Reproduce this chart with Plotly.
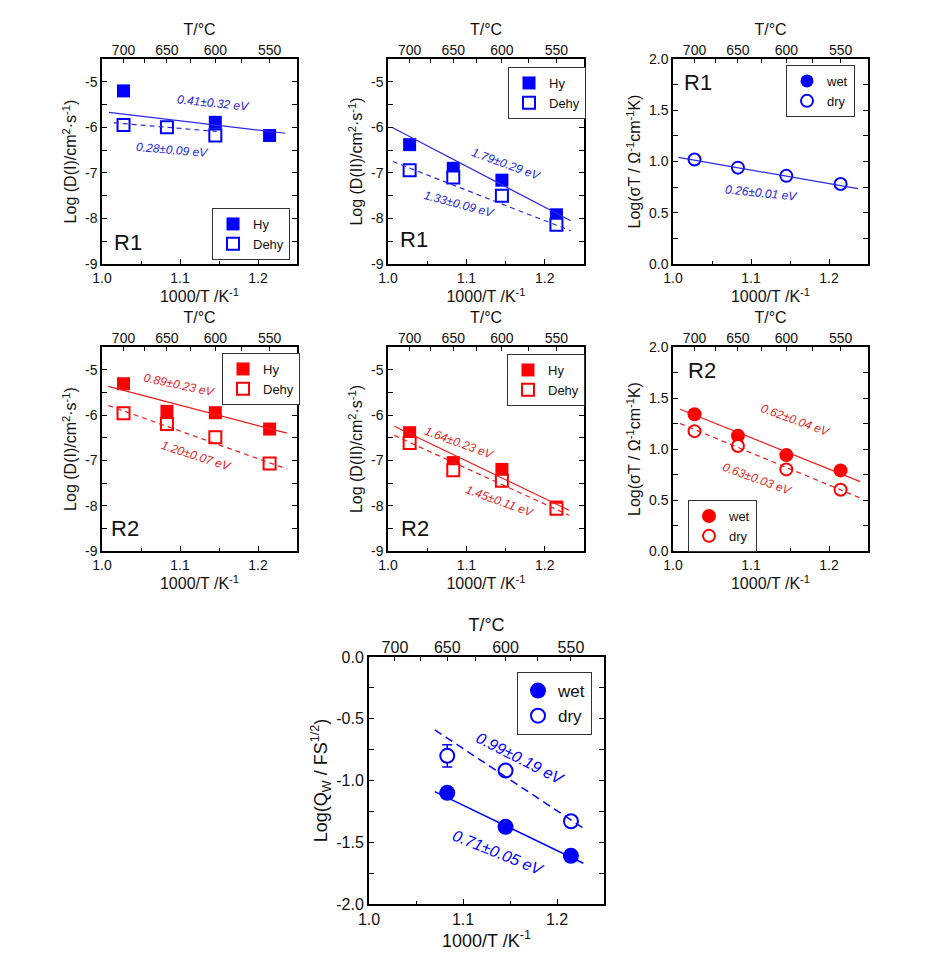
import plotly.graph_objects as go

W, H = 943, 968
OFF = 8  # page body margin of the browser
FONT = "Arial, 'Liberation Sans', sans-serif"
BLUE = "#0000ff"
BLUE_LINE = "#2a2ae6"
BLUE_TEXT = "#2323d8"
RED = "#ff0000"
RED_LINE = "#f01818"
RED_TEXT = "#e01c1c"

# ---------------- data ----------------
TEMPS_TOP = [700, 675, 650, 625, 600, 575, 550]
TEMP_LABELS = ["700", "", "650", "", "600", "", "550"]
X_TICKS = [1.0, 1.1, 1.2]
X_TICK_TEXT = ["1.0", "1.1", "1.2"]
X_MINOR = [1.05, 1.15]

D_TICKS = [-9, -8, -7, -6, -5]
D_TICK_TEXT = ["-9", "-8", "-7", "-6", "-5"]
D_MINOR = [-8.5, -7.5, -6.5, -5.5, -4.5]
S_TICKS = [0.0, 0.5, 1.0, 1.5, 2.0]
S_TICK_TEXT = ["0.0", "0.5", "1.0", "1.5", "2.0"]
S_MINOR = [0.25, 0.75, 1.25, 1.75]
Q_TICKS = [-2.0, -1.5, -1.0, -0.5, 0.0]
Q_TICK_TEXT = ["-2.0", "-1.5", "-1.0", "-0.5", "0.0"]
Q_MINOR = [-1.75, -1.25, -0.75, -0.25]

# Panel 1: R1, D(I)
p1_hy_T = [700, 600, 550]
p1_hy = [-5.20, -5.89, -6.18]
p1_dehy_T = [700, 650, 600]
p1_dehy = [-5.95, -6.00, -6.18]
p1_fit_hy_x = [1.009, 1.235]
p1_fit_hy = [-5.67, -6.13]
p1_fit_dehy_x = [1.015, 1.147]
p1_fit_dehy = [-5.90, -6.09]

# Panel 2: R1, D(II)
p2_T = [700, 650, 600, 550]
p2_hy = [-6.38, -6.90, -7.16, -7.92]
p2_dehy = [-6.94, -7.10, -7.50, -8.14]
p2_fit_x = [1.006, 1.233]
p2_fit_hy = [-6.01, -8.05]
p2_fit_dehy = [-6.75, -8.27]

# Panel 3: R1, sigma T
p3_T = [700, 650, 600, 550]
p3_dry = [1.02, 0.94, 0.86, 0.78]
p3_fit_x = [1.007, 1.237]
p3_fit_dry = [1.04, 0.735]

# Panel 4: R2, D(I)
p4_T = [700, 650, 600, 550]
p4_hy = [-5.31, -5.92, -5.95, -6.31]
p4_dehy = [-5.96, -6.20, -6.49, -7.07]
p4_fit_x = [1.008, 1.237]
p4_fit_hy = [-5.37, -6.40]
p4_fit_dehy = [-5.79, -7.19]

# Panel 5: R2, D(II)
p5_T = [700, 650, 600, 550]
p5_hy = [-6.39, -7.05, -7.20, -8.03]
p5_dehy = [-6.62, -7.22, -7.45, -8.07]
p5_fit_x = [1.008, 1.231]
p5_fit_hy = [-6.25, -8.10]
p5_fit_dehy = [-6.45, -8.21]

# Panel 6: R2, sigma T
p6_T = [700, 650, 600, 550]
p6_wet = [1.34, 1.13, 0.94, 0.79]
p6_dry = [1.175, 1.03, 0.80, 0.60]
p6_fit_x = [1.009, 1.24]
p6_fit_wet = [1.39, 0.68]
p6_fit_dry = [1.25, 0.52]

# Panel 7: Q_W
p7_T = [650, 600, 550]
p7_wet = [-1.10, -1.375, -1.61]
p7_dry = [-0.80, -0.92, -1.33]
p7_dry_err = [0.09, 0.0, 0.0]
p7_fit_x = [1.070, 1.228]
p7_fit_wet = [-1.09, -1.67]
p7_fit_dry = [-0.59, -1.386]


def inv(temps):
    return [1000.0 / (t + 273.15) for t in temps]


def sfx(i):
    return "" if i == 1 else str(i)


def px_x(px):
    return (px - OFF) / W


def px_y(py):
    return 1 - (py - OFF) / H


fig = go.Figure()

# panel boxes in pixels: (x0, x1), (y0, y1) from top
cols = [(102, 297), (388, 584), (673, 868)]
rows = [(59, 264), (347, 551)]
boxes = [
    (cols[0], rows[0]), (cols[1], rows[0]), (cols[2], rows[0]),
    (cols[0], rows[1]), (cols[1], rows[1]), (cols[2], rows[1]),
    ((369, 604), (657, 904)),
]


def setup_axes(i, yrange, ytv, ytt, yminor, ytitle, big=False):
    (x0, x1), (y0, y1) = boxes[i - 1]
    fs_tick = 16 if big else 14
    fs_title = 18 if big else 16
    lw = 2 if big else 1.5
    common = dict(showgrid=False, zeroline=False, linecolor="black", linewidth=lw,
                  ticks="inside", tickcolor="black", tickwidth=1.2, automargin=False,
                  tickfont=dict(family=FONT, size=fs_tick, color="#111"))
    fig.update_layout(**{
        f"xaxis{sfx(i)}": dict(
            domain=[px_x(x0), px_x(x1)], range=[1.0, 1.25], anchor=f"y{sfx(i)}",
            tickmode="array", tickvals=X_TICKS, ticktext=X_TICK_TEXT, ticklen=5,
            minor=dict(tickvals=X_MINOR, ticks="inside", ticklen=3, tickcolor="black"),
            showline=True, mirror=True,
            title=dict(text="1000/T /K<sup>-1</sup>", standoff=6,
                       font=dict(family=FONT, size=fs_title, color="#111")),
            **common),
        f"yaxis{sfx(i)}": dict(
            domain=[px_y(y1), px_y(y0)], range=yrange, anchor=f"x{sfx(i)}",
            tickmode="array", tickvals=ytv, ticktext=ytt, ticklen=5,
            minor=dict(tickvals=yminor, ticks="inside", ticklen=3, tickcolor="black"),
            showline=True, mirror="allticks",
            title=dict(text=ytitle, standoff=4,
                       font=dict(family=FONT, size=fs_title, color="#111")),
            **common),
        f"xaxis{i + 7}": dict(
            overlaying=f"x{sfx(i)}", side="top", anchor=f"y{sfx(i)}", range=[1.0, 1.25],
            tickmode="array", tickvals=inv(TEMPS_TOP), ticktext=TEMP_LABELS, ticklen=4,
            showline=False,
            title=dict(text="T/°C", standoff=2,
                       font=dict(family=FONT, size=fs_title, color="#111")),
            **common),
    })
    # invisible anchor trace for the top axis
    fig.add_trace(go.Scatter(x=inv([700, 550]), y=[yrange[0], yrange[0]],
                             xaxis=f"x{i + 7}", yaxis=f"y{sfx(i)}", mode="markers",
                             marker=dict(opacity=0), hoverinfo="skip", showlegend=False))


def add_pts(i, temps, vals, name, color, filled, symbol, size=13, err=None):
    mk = dict(symbol=symbol, size=size)
    if filled:
        mk.update(color=color, line=dict(width=0))
    else:
        mk.update(color="white", line=dict(color=color, width=2))
    kw = {}
    if err is not None:
        kw["error_y"] = dict(type="data", array=err, visible=True, color=color,
                             thickness=1.5, width=5)
    fig.add_trace(go.Scatter(x=inv(temps) if temps else [None], y=vals if temps else [None],
                             mode="markers", name=name, marker=mk,
                             xaxis=f"x{sfx(i)}", yaxis=f"y{sfx(i)}",
                             legend=f"legend{sfx(i)}", **kw))


def add_fit(i, xs, ys, color, dash, width=1.2):
    fig.add_trace(go.Scatter(x=xs, y=ys, mode="lines", line=dict(color=color, width=width, dash=dash),
                             xaxis=f"x{sfx(i)}", yaxis=f"y{sfx(i)}", showlegend=False,
                             hoverinfo="skip"))


def label(i, x, y, text, color, angle, size=12):
    fig.add_annotation(x=x, y=y, xref=f"x{sfx(i)}", yref=f"y{sfx(i)}", text=f"<i>{text}</i>",
                       showarrow=False, textangle=angle, xanchor="center", yanchor="middle",
                       font=dict(family=FONT, size=size, color=color))


def legend(i, px, py, size=13):
    fig.update_layout(**{f"legend{sfx(i)}": dict(
        x=px_x(px), y=px_y(py), xanchor="left", yanchor="top",
        bgcolor="white", bordercolor="#333", borderwidth=1,
        font=dict(family=FONT, size=size, color="#111"),
        itemwidth=30, tracegroupgap=0)})


def rlabel(px, py, text):
    fig.add_annotation(x=px_x(px), y=px_y(py), xref="paper", yref="paper", text=text,
                       showarrow=False, xanchor="center", yanchor="middle",
                       font=dict(family=FONT, size=22, color="#111"))


DY1 = "Log (D(I)/cm<sup>2</sup>·s<sup>-1</sup>)"
DY2 = "Log (D(II)/cm<sup>2</sup>·s<sup>-1</sup>)"
SY = "Log(σT / Ω<sup>-1</sup>cm<sup>-1</sup>K)"
QY = "Log(Q<sub>W</sub> / FS<sup>1/2</sup>)"

# Panel 1
setup_axes(1, [-9, -4.5], D_TICKS, D_TICK_TEXT, D_MINOR, DY1)
add_pts(1, p1_hy_T, p1_hy, "Hy", BLUE, True, "square")
add_pts(1, p1_dehy_T, p1_dehy, "Dehy", BLUE, False, "square", 12)
add_fit(1, p1_fit_hy_x, p1_fit_hy, BLUE_LINE, "solid")
add_fit(1, p1_fit_dehy_x, p1_fit_dehy, BLUE_LINE, "5px,4px")
label(1, 1.142, -5.46, "0.41±0.32 eV", BLUE_TEXT, 6)
label(1, 1.090, -6.49, "0.28±0.09 eV", BLUE_TEXT, 5)
legend(1, 212, 208)
rlabel(128, 242, "R1")

# Panel 2
setup_axes(2, [-9, -4.5], D_TICKS, D_TICK_TEXT, D_MINOR, DY2)
add_pts(2, p2_T, p2_hy, "Hy", BLUE, True, "square")
add_pts(2, p2_T, p2_dehy, "Dehy", BLUE, False, "square", 12)
add_fit(2, p2_fit_x, p2_fit_hy, BLUE_LINE, "solid")
add_fit(2, p2_fit_x, p2_fit_dehy, BLUE_LINE, "5px,4px")
label(2, 1.150, -6.80, "1.79±0.29 eV", BLUE_TEXT, 20)
label(2, 1.090, -7.68, "1.33±0.09 eV", BLUE_TEXT, 15)
legend(2, 508, 67)
rlabel(414, 240, "R1")

# Panel 3
setup_axes(3, [0, 2], S_TICKS, S_TICK_TEXT, S_MINOR, SY)
add_pts(3, [], [], "wet", BLUE, True, "circle")
add_pts(3, p3_T, p3_dry, "dry", BLUE, False, "circle", 12)
add_fit(3, p3_fit_x, p3_fit_dry, BLUE_LINE, "solid")
label(3, 1.113, 0.69, "0.26±0.01 eV", BLUE_TEXT, 6)
legend(3, 786, 65)
rlabel(698, 83, "R1")

# Panel 4
setup_axes(4, [-9, -4.5], D_TICKS, D_TICK_TEXT, D_MINOR, DY1)
add_pts(4, p4_T, p4_hy, "Hy", RED, True, "square")
add_pts(4, p4_T, p4_dehy, "Dehy", RED, False, "square", 12)
add_fit(4, p4_fit_x, p4_fit_hy, RED_LINE, "solid")
add_fit(4, p4_fit_x, p4_fit_dehy, RED_LINE, "5px,4px")
label(4, 1.099, -5.33, "0.89±0.23 eV", RED_TEXT, 12)
label(4, 1.121, -6.90, "1.20±0.07 eV", RED_TEXT, 18)
legend(4, 222, 353)
rlabel(125, 528, "R2")

# Panel 5
setup_axes(5, [-9, -4.5], D_TICKS, D_TICK_TEXT, D_MINOR, DY2)
add_pts(5, p5_T, p5_hy, "Hy", RED, True, "square")
add_pts(5, p5_T, p5_dehy, "Dehy", RED, False, "square", 12)
add_fit(5, p5_fit_x, p5_fit_hy, RED_LINE, "solid")
add_fit(5, p5_fit_x, p5_fit_dehy, RED_LINE, "5px,4px")
label(5, 1.091, -6.62, "1.64±0.23 eV", RED_TEXT, 20)
label(5, 1.142, -7.90, "1.45±0.11 eV", RED_TEXT, 20)
legend(5, 507, 354)
rlabel(415, 528, "R2")

# Panel 6
setup_axes(6, [0, 2], S_TICKS, S_TICK_TEXT, S_MINOR, SY)
add_pts(6, p6_T, p6_wet, "wet", RED, True, "circle", 14)
add_pts(6, p6_T, p6_dry, "dry", RED, False, "circle", 12)
add_fit(6, p6_fit_x, p6_fit_wet, RED_LINE, "solid")
add_fit(6, p6_fit_x, p6_fit_dry, RED_LINE, "5px,4px")
label(6, 1.156, 1.28, "0.62±0.04 eV", RED_TEXT, 20)
label(6, 1.108, 0.71, "0.63±0.03 eV", RED_TEXT, 20)
legend(6, 688, 500)
rlabel(702, 370, "R2")

# Panel 7
setup_axes(7, [-2, 0], Q_TICKS, Q_TICK_TEXT, Q_MINOR, QY, big=True)
add_pts(7, p7_T, p7_wet, "wet", BLUE, True, "circle", 16)
add_pts(7, p7_T, p7_dry, "dry", BLUE, False, "circle", 14, err=p7_dry_err)
add_fit(7, p7_fit_x, p7_fit_wet, BLUE, "solid", 1.5)
add_fit(7, p7_fit_x, p7_fit_dry, BLUE, "8px,5px", 1.5)
label(7, 1.161, -0.82, "0.99±0.19 eV", BLUE, 27, 16)
label(7, 1.137, -1.58, "0.71±0.05 eV", BLUE, 22, 16)
legend(7, 517, 672, 17)

fig.update_layout(template="none", width=W, height=H, margin=dict(l=0, r=0, t=0, b=0),
                  paper_bgcolor="white", plot_bgcolor="white",
                  font=dict(family=FONT, color="#111"))

fig.write_html("out.html")
